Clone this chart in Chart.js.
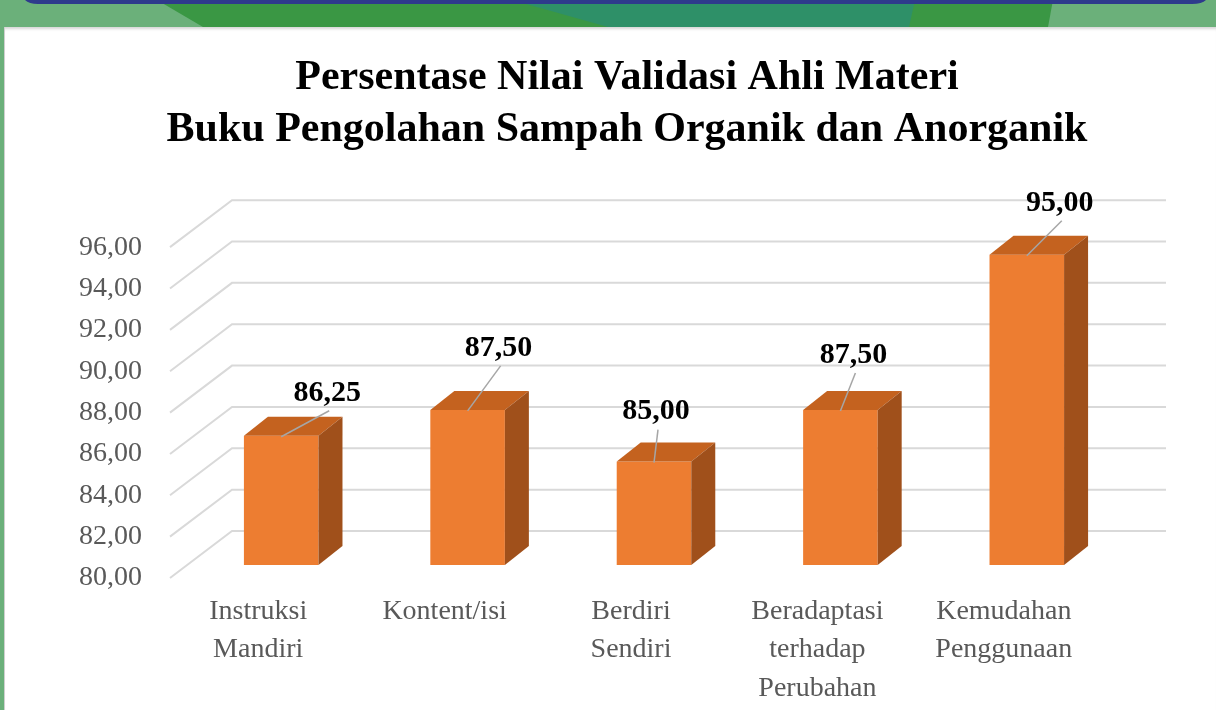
<!DOCTYPE html>
<html>
<head>
<meta charset="utf-8">
<script src="https://cdn.jsdelivr.net/npm/chart.js@4.4.1/dist/chart.umd.min.js"></script>
<style>
  html, body { margin: 0; padding: 0; width: 1216px; height: 710px; overflow: hidden; background: #6bb07a; }
  #banner { position: absolute; left: 0; top: 0; }
  #panel { position: absolute; left: 4px; top: 27px; width: 1211px; height: 683px; background: #fff;
           border-left: 1px solid #cfcfcf; box-shadow: inset 0 4px 3px -2px #d6d6d6; }
  #wrap { position: absolute; left: 0; top: 0; width: 1216px; height: 710px; }
</style>
</head>
<body>
<svg id="banner" width="1216" height="27">
  <rect width="1216" height="27" fill="#6bb07a"/>
  <polygon points="157,0 1053,0 1048,27 203,27" fill="#3a9744"/>
  <polygon points="512,0 915,0 909,27 608,27" fill="#2e9068"/>
  <path d="M25,0 H1206 Q1202,4 1192,4 H38 Q29,4 25,0Z" fill="#2e3a8c"/>
</svg>
<div id="panel"></div>
<div id="wrap"><canvas id="myChart"></canvas></div>
<script>
'use strict';

const categories = [
  ['Instruksi', 'Mandiri'],
  ['Kontent/isi'],
  ['Berdiri', 'Sendiri'],
  ['Beradaptasi', 'terhadap', 'Perubahan'],
  ['Kemudahan', 'Penggunaan']
];
const nilai = [86.25, 87.5, 85, 87.5, 95];
const yMin = 80;
const yMax = 96;
const yStep = 2;
const titleLines = ['Persentase Nilai Validasi Ahli Materi', 'Buku Pengolahan Sampah Organik dan Anorganik'];

// where each value label sits, relative to the top front edge of its bar
const labelShift = [[46, -43], [31, -62], [2, -50], [13, -55], [33, -52]];

const depth = { x: 24, y: -19 };  // depth of a bar
const wall = { x: 44, y: -34 };   // back wall, from the plane of the bars
const front = { x: -18, y: 13 };  // front edge of the floor

function formatNilai(v) {
  return v.toFixed(2).replace('.', ',');
}

const threeD = {
  id: 'threeD',
  beforeDatasetsDraw(chart) {
    let ctx = chart.ctx;
    let yScale = chart.scales.y;
    let area = chart.chartArea;
    ctx.save();
    ctx.strokeStyle = '#d9d9d9';
    ctx.lineWidth = 2;
    yScale.ticks.forEach(function (t) {
      let y = yScale.getPixelForValue(t.value);
      ctx.beginPath();
      ctx.moveTo(area.left + front.x, y + front.y);
      ctx.lineTo(area.left + wall.x, y + wall.y);
      ctx.lineTo(area.right + 46, y + wall.y);
      ctx.stroke();
    });
    ctx.restore();
  },
  afterDatasetsDraw(chart) {
    let ctx = chart.ctx;
    let meta = chart.getDatasetMeta(0);
    let area = chart.chartArea;
    ctx.save();
    meta.data.forEach(function (bar, i) {
      let left = bar.x - bar.width / 2;
      let right = bar.x + bar.width / 2;
      let top = bar.y;
      let base = Math.min(bar.base, area.bottom);

      ctx.fillStyle = '#c4621f';
      ctx.beginPath();
      ctx.moveTo(left, top);
      ctx.lineTo(left + depth.x, top + depth.y);
      ctx.lineTo(right + depth.x, top + depth.y);
      ctx.lineTo(right, top);
      ctx.closePath();
      ctx.fill();

      ctx.fillStyle = '#a0501b';
      ctx.beginPath();
      ctx.moveTo(right, top);
      ctx.lineTo(right + depth.x, top + depth.y);
      ctx.lineTo(right + depth.x, base + depth.y);
      ctx.lineTo(right, base);
      ctx.closePath();
      ctx.fill();

      let lx = bar.x + labelShift[i][0];
      let ly = top + labelShift[i][1];
      ctx.strokeStyle = '#a6a6a6';
      ctx.lineWidth = 1.5;
      ctx.beginPath();
      ctx.moveTo(lx + 2, ly + 18);
      ctx.lineTo(bar.x, top + 1);
      ctx.stroke();

      ctx.fillStyle = '#000';
      ctx.font = 'bold 30px "Liberation Serif"';
      ctx.textAlign = 'center';
      ctx.textBaseline = 'middle';
      ctx.fillText(formatNilai(nilai[i]), lx, ly);
    });
    ctx.restore();
  }
};

new Chart(document.getElementById('myChart'), {
  type: 'bar',
  data: {
    labels: categories,
    datasets: [{
      data: nilai,
      backgroundColor: '#ed7d31',
      barPercentage: 0.4,
      categoryPercentage: 1
    }]
  },
  options: {
    responsive: true,
    maintainAspectRatio: false,
    animation: false,
    layout: { padding: { left: 60, right: 22, top: 22, bottom: 0 } },
    plugins: {
      legend: { display: false },
      tooltip: { enabled: false },
      title: {
        display: true,
        text: titleLines,
        color: '#000',
        font: { family: '"Liberation Serif"', size: 42, weight: 'bold', lineHeight: 1.24 },
        padding: { top: 30, bottom: 78 }
      }
    },
    scales: {
      x: {
        grid: { display: false, drawTicks: false },
        border: { display: false },
        ticks: {
          color: '#595959',
          font: { family: '"Liberation Serif"', size: 28, lineHeight: 1.36 },
          padding: 28,
          labelOffset: -23,
          maxRotation: 0,
          autoSkip: false
        },
        afterFit: function (s) { s.height = 145; }
      },
      y: {
        min: yMin,
        max: yMax,
        grid: { display: false, drawTicks: false },
        border: { display: false },
        ticks: {
          stepSize: yStep,
          color: '#595959',
          font: { family: '"Liberation Serif"', size: 28 },
          padding: 46,
          labelOffset: 13,
          callback: function (v) { return formatNilai(v); }
        },
        afterFit: function (s) { s.width = 128; }
      },
      // empty room on the right, where the back wall runs on
      yRight: {
        position: 'right',
        grid: { display: false, drawTicks: false },
        border: { display: false },
        ticks: { display: false },
        afterFit: function (s) { s.width = 74; }
      }
    }
  },
  plugins: [threeD]
});
</script>
</body>
</html>
